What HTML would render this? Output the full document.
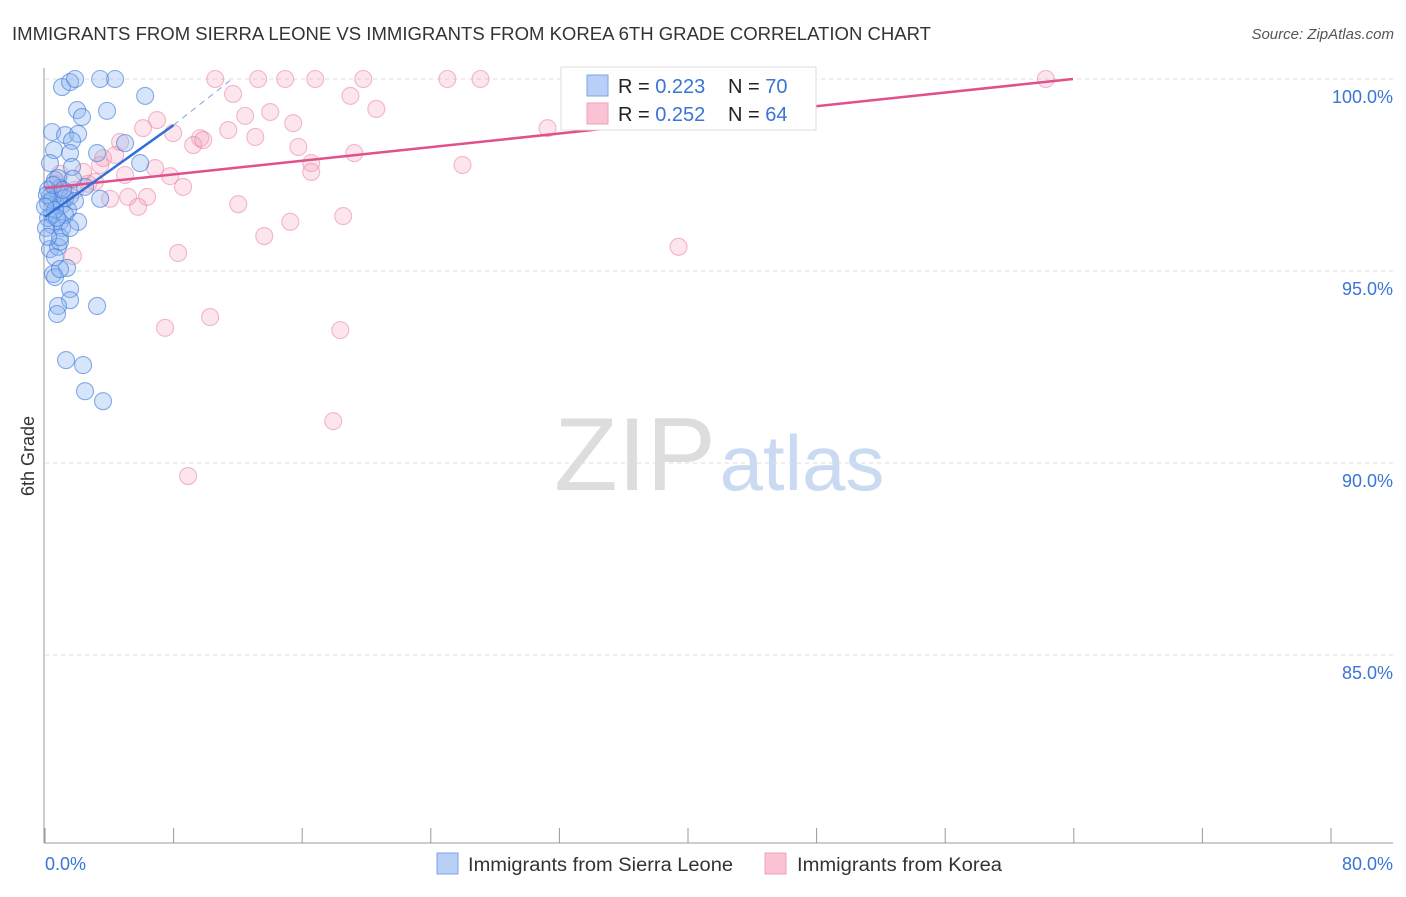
<!DOCTYPE html>
<html><head><meta charset="utf-8"><style>
body{margin:0;background:#fff;font-family:"Liberation Sans",sans-serif}
svg text{font-family:"Liberation Sans",sans-serif}
</style></head><body>
<svg width="1406" height="892" xmlns="http://www.w3.org/2000/svg">
<text x="12" y="40" font-size="18" fill="#333" textLength="919" lengthAdjust="spacingAndGlyphs">IMMIGRANTS FROM SIERRA LEONE VS IMMIGRANTS FROM KOREA 6TH GRADE CORRELATION CHART</text>
<text x="1394" y="39" font-size="15" fill="#555" text-anchor="end" font-style="italic">Source: ZipAtlas.com</text>
<g>
<text x="635" y="490" font-size="104" fill="#ddd" text-anchor="middle" font-family="Liberation Serif,serif">ZIP</text>
<text x="802" y="490" font-size="78" fill="#c9daf2" text-anchor="middle">atlas</text>
</g>
<g id="grid"></g>
<g id="axes"></g>
<g id="pts"></g>
<g id="lines"></g>
<text transform="translate(34,456) rotate(-90)" font-size="18" fill="#333" text-anchor="middle">6th Grade</text>
<g>
<rect x="561" y="67" width="255" height="63" fill="#fff" stroke="#ddd"/>
<rect x="587" y="75" width="21" height="21" fill="#b8d0f5" stroke="#7aa4e6"/>
<rect x="587" y="103" width="21" height="21" fill="#f9c3d3" stroke="#eea2b8"/>
<text x="618" y="93" font-size="20" fill="#222">R = <tspan fill="#3a74d4">0.223</tspan></text>
<text x="728" y="93" font-size="20" fill="#222">N = <tspan fill="#3a74d4">70</tspan></text>
<text x="618" y="121" font-size="20" fill="#222">R = <tspan fill="#3a74d4">0.252</tspan></text>
<text x="728" y="121" font-size="20" fill="#222">N = <tspan fill="#3a74d4">64</tspan></text>
</g>
<g>
<rect x="437" y="853" width="21" height="21" fill="#b8d0f5" stroke="#7aa4e6"/>
<text x="468" y="871" font-size="19" fill="#333" textLength="265" lengthAdjust="spacingAndGlyphs">Immigrants from Sierra Leone</text>
<rect x="765" y="853" width="21" height="21" fill="#f9c3d3" stroke="#eea2b8"/>
<text x="797" y="871" font-size="19" fill="#333" textLength="205" lengthAdjust="spacingAndGlyphs">Immigrants from Korea</text>
</g>
</svg>
<script>
const yTicks=[100,95,90,85];
const yTickLabels=["100.0%","95.0%","90.0%","85.0%"];
const xTickValues=[0,8,16,24,32,40,48,56,64,72,80];
const blueX=[1.06,1.56,1.87,3.43,4.36,6.23,2.0,3.86,2.30,0.44,1.25,2.06,1.68,0.56,1.56,3.24,4.98,5.92,1.68,0.62,0.93,2.49,0.31,0.81,1.56,3.43,0.19,1.06,1.43,0.44,1.25,0.93,2.06,0.44,1.06,0.31,0.81,0.93,1.37,0.50,0.62,1.56,1.56,3.24,0.81,0.75,1.31,2.37,2.49,3.61,0.19,0.44,0.62,0.19,0.06,1.25,1.87,0.81,0.93,0.31,0.12,0.50,1.12,0.0,0.75,1.56,0.19,0.62,0.93,1.74];
const blueY=[99.79,99.92,100,100,100,99.56,99.19,99.17,99.01,98.62,98.54,98.57,98.39,98.15,98.07,98.07,98.33,97.81,97.71,97.37,97.16,97.19,96.93,97.03,96.95,96.88,96.77,96.72,96.59,96.46,96.46,96.28,96.28,96.2,96.12,95.57,95.63,95.76,95.08,94.92,94.84,94.53,94.24,94.09,94.09,93.88,92.68,92.55,91.87,91.61,97.11,96.85,96.59,96.38,96.12,96.9,96.82,97.42,95.88,97.81,96.98,97.24,97.11,96.67,96.38,96.12,95.89,95.36,95.05,97.4];
const pinkX=[10.59,13.26,14.94,16.81,19.80,25.03,27.09,33.94,62.26,11.70,19.00,20.61,12.45,14.01,15.44,6.97,6.10,7.97,9.65,9.22,9.84,11.40,13.08,15.76,19.24,16.56,16.56,25.97,31.26,3.61,4.36,3.43,2.37,4.98,6.85,7.78,8.59,2.68,0.93,0.62,1.25,4.05,5.17,6.35,5.79,12.02,13.64,15.26,18.55,1.74,8.28,7.47,10.27,18.37,17.93,8.90,39.41,3.11,1.87,4.67];
const pinkY=[100,100,100,100,100,100,100,100,100,99.61,99.56,99.22,99.04,99.14,98.85,98.93,98.72,98.59,98.46,98.28,98.41,98.67,98.49,98.23,98.07,97.81,97.58,97.76,98.72,97.94,98.02,97.76,97.58,97.5,97.68,97.47,97.19,97.27,97.53,97.27,97.01,96.88,96.93,96.93,96.67,96.74,95.91,96.28,96.43,95.39,95.47,93.52,93.80,93.46,91.09,89.66,95.63,97.32,97.11,98.36];
const blueLine=[[0,96.41],[8,98.80]];
const blueDash=[[8,98.80],[11.64,100]];
const pinkLine=[[0,97.16],[63.95,100]];
const NS="http://www.w3.org/2000/svg";
const X=v=>45+v*16.075;
const Y=v=>79+(100-v)*38.4;
function mk(t,a,p){const e=document.createElementNS(NS,t);for(const k in a)e.setAttribute(k,a[k]);p.appendChild(e);return e;}
const grid=document.getElementById('grid'),axes=document.getElementById('axes'),pts=document.getElementById('pts'),lines=document.getElementById('lines');
yTicks.forEach((t,i)=>{
 const l=mk('line',{x1:45,x2:1393,y1:Y(t),y2:Y(t),stroke:'#ddd','stroke-dasharray':'4,4'},grid);
 
 
 const tx=mk('text',{x:1393,y:Y(t)+24,'font-size':18,fill:'#3a74d4','text-anchor':'end'},axes);
 tx.textContent=yTickLabels[i];
 
 
});
const ya=mk('line',{x1:44,x2:44,y1:68,y2:843,stroke:'#999'},axes);


const xa=mk('line',{x1:44,x2:1393,y1:843,y2:843,stroke:'#999'},axes);


xTickValues.forEach(v=>{
 const t=mk('line',{x1:X(v),x2:X(v),y1:828,y2:843,stroke:'#999'},axes);
 
 
});
const xl0=mk('text',{x:45,y:870,'font-size':18,fill:'#3a74d4'},axes);xl0.textContent='0.0%';


const xl1=mk('text',{x:1393,y:870,'font-size':18,fill:'#3a74d4','text-anchor':'end'},axes);xl1.textContent='80.0%';


pinkX.forEach((v,i)=>{
 const c=mk('circle',{cx:X(v),cy:Y(pinkY[i]),r:8.5,fill:'rgba(246,160,185,0.28)',stroke:'rgba(232,120,155,0.5)','stroke-width':1.1},pts);
 
 
});
blueX.forEach((v,i)=>{
 const c=mk('circle',{cx:X(v),cy:Y(blueY[i]),r:8.5,fill:'rgba(140,180,240,0.35)',stroke:'rgba(60,120,215,0.6)','stroke-width':1.1},pts);
 
 
});
function ln(p,s,w,d,n){const l=mk('line',{x1:X(p[0][0]),y1:Y(p[0][1]),x2:X(p[1][0]),y2:Y(p[1][1]),stroke:s,'stroke-width':w},lines);if(d)l.setAttribute('stroke-dasharray',d);
 
 }
ln(pinkLine,'#e0508a',2.5,null,'korea-trendline');
ln(blueLine,'#2f6fd6',2.5,null,'sierra-leone-trendline');
ln(blueDash,'#7aa4e6',1,'6,5','sierra-leone-trendline-extension');
</script>
</body></html>
